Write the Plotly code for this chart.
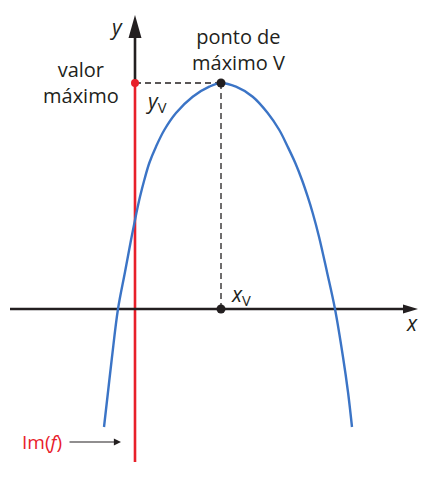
import plotly.graph_objects as go

# parabola (origin = axes crossing, 1 unit = 1 px)
curve_x = [-31, -27, -23, -17, -10, -4, 1.4, 5, 9.3, 14.3, 21, 29.3, 41, 57.7, 74.3, 86,
           101, 117.7, 132.7, 144.3, 152.7, 160.3, 167, 172.7, 177.7, 184, 192, 200, 208, 213, 217]
curve_y = [-118, -83, -48, 0, 37, 69, 96, 112.3, 129, 146, 162.3, 179, 196, 212.3, 222.3, 226,
           222.3, 212.3, 196, 179, 162.3, 146, 129, 112.3, 96, 72.3, 37, 0, -48, -83, -118]

# vertex V = (xV, yV)
vertex_x = 86
vertex_y = 226

# axes extents
x_axis_start, x_axis_end = -125, 283
y_axis_top = 294
im_bottom = -153

INK = '#231f20'
RED = '#e8202a'
BLUE = '#3b74c6'
FONT = 'Open Sans'

fig = go.Figure()

# Im(f): red part of the y axis, from yV down
fig.add_trace(go.Scatter(x=[0, 0], y=[vertex_y, im_bottom], mode='lines',
                         line=dict(color=RED, width=2.6), hoverinfo='skip'))
# black part of the y axis above yV
fig.add_trace(go.Scatter(x=[0, 0], y=[vertex_y, y_axis_top - 20], mode='lines',
                         line=dict(color=INK, width=2.6), hoverinfo='skip'))
# x axis
fig.add_trace(go.Scatter(x=[x_axis_start, x_axis_end - 12], y=[0, 0], mode='lines',
                         line=dict(color=INK, width=2.6), hoverinfo='skip'))

# dashed guides to the vertex
fig.add_trace(go.Scatter(x=[0, vertex_x], y=[vertex_y, vertex_y], mode='lines',
                         line=dict(color=INK, width=1.3, dash='6px,4px'), hoverinfo='skip'))
fig.add_trace(go.Scatter(x=[vertex_x, vertex_x], y=[vertex_y, 0], mode='lines',
                         line=dict(color=INK, width=1.3, dash='6px,4px'), hoverinfo='skip'))

# the parabola
fig.add_trace(go.Scatter(x=curve_x, y=curve_y, mode='lines', line_shape='spline',
                         line=dict(color=BLUE, width=2.4, smoothing=1), hoverinfo='skip'))

# points
fig.add_trace(go.Scatter(x=[vertex_x, vertex_x], y=[vertex_y, 0], mode='markers',
                         marker=dict(color=INK, size=9), hoverinfo='skip'))
fig.add_trace(go.Scatter(x=[0], y=[vertex_y], mode='markers',
                         marker=dict(color=RED, size=8), hoverinfo='skip'))

# arrow heads of the axes
yh_len, yh_w = 23, 13
xh_len, xh_w = 15, 9
fig.add_shape(type='path', fillcolor=INK, line=dict(width=0),
              path=f'M {-yh_w / 2},{y_axis_top - yh_len} L 0,{y_axis_top} L {yh_w / 2},{y_axis_top - yh_len} Z')
fig.add_shape(type='path', fillcolor=INK, line=dict(width=0),
              path=f'M {x_axis_end - xh_len},{-xh_w / 2} L {x_axis_end},0 L {x_axis_end - xh_len},{xh_w / 2} Z')


def label(text, x, y, size=20, color=INK, xanchor='center'):
    fig.add_annotation(x=x, y=y, text=text, showarrow=False, xanchor=xanchor,
                       align='center', font=dict(family=FONT, size=size, color=color))


label('<i>y</i>', -19, 282, size=21)
label('<i>x</i>', 277, -14, size=21)
label('ponto de<br>máximo V', 103, 260)
label('valor<br>máximo', -54.5, 227)
label('<i>y</i><sub>V</sub>', 8, 207, size=21, xanchor='left')
label('<i>x</i><sub>V</sub>', 94, 14, size=21, xanchor='left')
label('Im(<i>f</i>)', -93, -133, size=19, color=RED)

# pointer from Im(f) to the red line
fig.add_annotation(x=-14, y=-133, ax=-67, ay=-133, axref='x', ayref='y',
                   text='', showarrow=True, arrowhead=2, arrowsize=1.3,
                   arrowwidth=1.1, arrowcolor=INK)

fig.update_layout(
    width=444, height=478,
    margin=dict(l=0, r=0, t=0, b=0),
    paper_bgcolor='white', plot_bgcolor='white',
    showlegend=False,
    xaxis=dict(range=[-135, 309], visible=False, fixedrange=True),
    yaxis=dict(range=[-169, 309], visible=False, fixedrange=True),
)

# drop the page's default body margin so the figure sits at the window corner
fig.write_html('out.html', config={'displayModeBar': False},
               post_script="document.body.style.margin='0';")
